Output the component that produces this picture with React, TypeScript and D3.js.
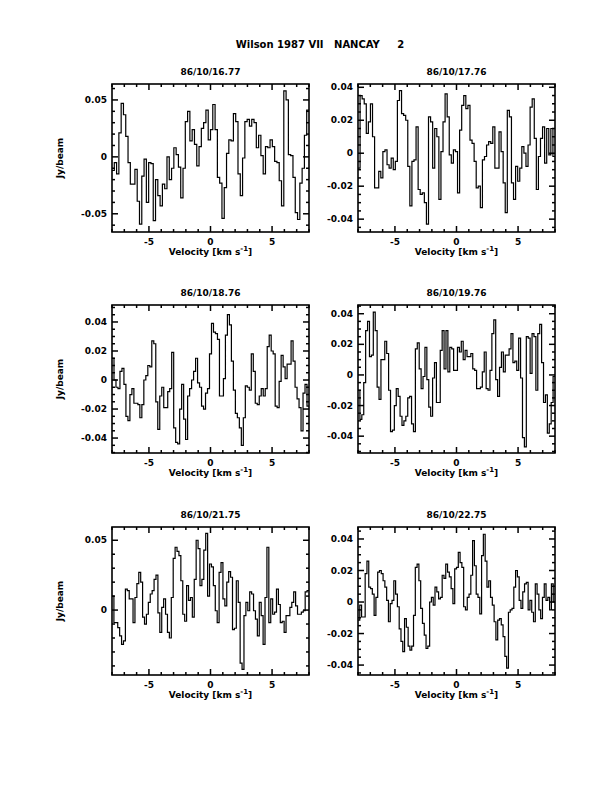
import React from 'react';
import * as d3 from 'd3';

// Page text
const pageTitle = 'Wilson 1987 VII   NANCAY     2';
const panelTitles = ['86/10/16.77', '86/10/17.76', '86/10/18.76', '86/10/19.76', '86/10/21.75', '86/10/22.75'];

// Axes
const velocityRange = [-8, 8];
const velocityTicks = [-5, 0, 5];
const yDomains = [
  [-0.066, 0.064],
  [-0.0478, 0.042],
  [-0.0503, 0.0517],
  [-0.051, 0.0457],
  [-0.0465, 0.0595],
  [-0.0463, 0.0476],
];
const yMajorTicks = [
  [-0.05, 0, 0.05],
  [-0.04, -0.02, 0, 0.02, 0.04],
  [-0.04, -0.02, 0, 0.02, 0.04],
  [-0.04, -0.02, 0, 0.02, 0.04],
  [0, 0.05],
  [-0.04, -0.02, 0, 0.02, 0.04],
];
const yMinorSteps = [0.01, 0.005, 0.005, 0.005, 0.01, 0.005];

// Spectra (Jy/beam), channels evenly spread over the velocity range
const spec1677 = [-0.012, -0.005, -0.015, 0.021, 0.047, 0.037, 0.018, -0.005, -0.024, -0.024, -0.011, -0.039, -0.059, -0.017, -0.002, -0.040, -0.005, -0.006, -0.056, -0.020, -0.034, -0.043, -0.024, -0.028, 0.000, -0.020, -0.010, 0.008, 0.002, -0.009, -0.036, -0.010, 0.031, 0.040, 0.014, 0.024, 0.011, -0.008, 0.009, 0.025, 0.030, 0.041, 0.015, 0.024, 0.046, 0.024, -0.018, -0.023, -0.054, -0.027, 0.003, 0.015, 0.014, 0.038, 0.031, -0.015, -0.034, -0.001, 0.031, 0.033, 0.027, 0.033, 0.030, 0.008, 0.019, 0.001, -0.015, 0.009, 0.008, 0.015, 0.009, -0.004, -0.005, -0.021, -0.043, 0.058, 0.050, 0.002, 0.001, -0.018, -0.049, -0.055, -0.023, -0.010, 0.019, 0.041];
const spec1776 = [-0.009, 0.035, 0.033, 0.030, 0.012, 0.019, 0.030, 0.010, -0.021, -0.021, -0.011, -0.015, 0.001, 0.002, -0.007, -0.009, -0.003, -0.010, -0.005, 0.032, 0.038, 0.024, 0.023, 0.020, -0.008, -0.032, -0.005, -0.004, 0.016, -0.022, -0.025, -0.024, -0.030, -0.043, 0.022, 0.019, -0.009, 0.015, 0.010, -0.028, 0.001, 0.019, 0.036, 0.022, -0.001, -0.006, 0.002, 0.001, -0.024, 0.014, 0.029, 0.035, 0.027, 0.029, 0.008, 0.006, -0.005, -0.021, -0.020, -0.033, -0.004, -0.002, 0.005, 0.007, 0.006, 0.016, -0.009, -0.009, 0.013, 0.001, -0.018, -0.036, 0.026, 0.022, -0.018, -0.028, -0.008, -0.017, -0.009, 0.004, 0.000, -0.008, 0.005, 0.028, 0.033, 0.009, -0.022, -0.002, 0.009, 0.016, -0.006, 0.015, -0.001, 0.015, -0.002];
const spec1876 = [0.015, 0.000, -0.005, -0.006, 0.006, 0.008, -0.003, -0.025, -0.028, -0.010, -0.006, -0.016, -0.016, -0.017, -0.026, -0.017, 0.000, 0.003, 0.010, 0.009, 0.027, 0.025, -0.015, -0.034, -0.011, -0.005, -0.019, -0.019, -0.008, -0.006, 0.019, -0.033, -0.043, -0.044, -0.020, -0.003, -0.027, -0.041, -0.011, -0.006, 0.000, 0.006, 0.015, -0.002, -0.005, -0.018, -0.020, -0.009, -0.006, 0.018, 0.039, 0.033, 0.032, 0.028, -0.011, -0.011, 0.001, 0.031, 0.045, 0.038, 0.013, -0.007, -0.023, -0.026, -0.033, -0.045, -0.026, -0.004, -0.005, -0.007, 0.018, 0.006, -0.016, -0.017, -0.011, -0.006, -0.011, -0.006, 0.023, 0.031, 0.020, 0.018, -0.018, -0.019, -0.001, 0.017, 0.009, 0.001, 0.011, 0.011, 0.027, 0.013, -0.005, -0.013, -0.019, -0.035, -0.009, -0.003, -0.018];
const spec1976 = [-0.010, -0.029, -0.026, -0.005, 0.029, 0.035, 0.012, 0.013, 0.041, 0.029, -0.008, -0.016, 0.010, 0.010, 0.022, 0.014, -0.010, -0.037, -0.036, -0.020, -0.009, -0.014, -0.027, -0.033, -0.030, -0.027, -0.015, -0.014, -0.032, -0.037, 0.017, 0.021, 0.004, -0.009, -0.001, 0.018, -0.003, -0.021, -0.027, -0.002, 0.008, -0.018, -0.018, 0.016, 0.029, 0.004, 0.029, 0.002, 0.018, 0.017, 0.003, 0.003, 0.018, 0.015, 0.022, 0.010, 0.016, 0.012, 0.012, 0.014, 0.004, 0.003, -0.009, -0.009, -0.008, 0.002, 0.015, -0.009, -0.010, 0.003, 0.027, 0.036, -0.003, -0.014, 0.005, 0.015, 0.002, 0.013, 0.013, 0.017, 0.027, 0.008, 0.009, 0.003, 0.024, -0.002, -0.041, -0.047, 0.025, 0.024, 0.001, 0.027, 0.025, -0.010, 0.027, 0.033, 0.008, -0.018, -0.013, -0.038, -0.032, -0.018, -0.001];
const spec2175 = [0.010, -0.009, -0.009, -0.0125, -0.0185, -0.0245, -0.022, 0.015, 0.014, 0.008, 0.008, -0.009, 0.009, 0.019, 0.027, 0.020, -0.005, -0.010, -0.003, 0.0055, 0.0115, 0.014, 0.022, 0.025, -0.002, -0.016, 0.002, 0.008, -0.003, -0.016, -0.020, 0.009, 0.037, 0.045, 0.042, 0.039, 0.021, -0.003, -0.008, 0.0175, 0.007, 0.009, -0.005, 0.022, 0.050, 0.044, 0.0175, 0.022, 0.043, 0.055, 0.010, 0.033, 0.031, 0.0175, -0.0005, -0.009, 0.027, 0.034, 0.008, 0.003, 0.020, 0.0275, 0.0235, -0.014, -0.013, 0.021, 0.0055, -0.038, -0.0425, -0.004, 0.0055, -0.0005, 0.013, 0.0115, -0.0005, -0.0065, -0.0185, 0.0055, -0.004, -0.0245, 0.009, 0.045, -0.009, 0.008, -0.003, -0.0015, 0.015, 0.004, -0.009, -0.008, -0.016, -0.004, -0.004, 0.002, 0.0055, 0.013, 0.003, -0.003, -0.003, -0.0015, -0.0005, 0.013, 0.014];
const spec2275 = [-0.0115, -0.002, -0.0095, -0.0095, 0.018, 0.026, 0.0095, 0.0085, 0.005, -0.0085, 0.003, 0.019, 0.020, 0.018, 0.0135, 0.0095, 0.001, -0.0125, -0.001, 0.001, 0.0135, 0.005, -0.003, -0.017, -0.025, -0.0315, -0.0105, -0.016, -0.028, -0.0305, -0.028, -0.0085, 0.022, 0.024, 0.0135, -0.004, -0.0135, -0.021, -0.0295, -0.028, 0.000, 0.003, -0.002, 0.0095, 0.0065, 0.002, 0.003, 0.017, 0.015, 0.024, 0.019, 0.016, 0.0085, -0.001, 0.021, 0.022, 0.0315, 0.025, 0.022, -0.003, -0.005, 0.003, 0.005, 0.017, 0.039, 0.023, 0.005, 0.003, -0.0075, 0.0295, 0.043, 0.026, 0.0095, 0.0135, 0.003, -0.002, -0.0125, -0.024, -0.0115, -0.0105, -0.0145, -0.022, -0.0345, -0.042, -0.0065, -0.005, -0.004, 0.0095, 0.020, 0.016, 0.001, -0.004, 0.0065, 0.0115, 0.0125, -0.005, 0.001, -0.0065, -0.0125, 0.0115, 0.005, -0.005, -0.0105, 0.003, 0.0115, 0.001, 0.003, -0.005, 0.0115, 0.000];
const spectra = [spec1677, spec1776, spec1876, spec1976, spec2175, spec2275];

// Layout
const W = 612;
const H = 792;
const colX = [112, 358];
const rowY = [84, 305, 527];
const panelW = 197;
const panelH = 148;
const font = 'DejaVu Sans, sans-serif';

type PanelProps = { idx: number };

const Panel: React.FC<PanelProps> = ({ idx }) => {
  const col = idx % 2;
  const row = Math.floor(idx / 2);
  const x0 = colX[col];
  const y0 = rowY[row];
  const values = spectra[idx];
  const [ymin, ymax] = yDomains[idx];

  const x = d3.scaleLinear().domain(velocityRange).range([0, panelW]);
  const y = d3.scaleLinear().domain([ymin, ymax]).range([panelH, 0]);

  const dv = (velocityRange[1] - velocityRange[0]) / values.length;
  const pts: [number, number][] = values.map((v, i) => [velocityRange[0] + i * dv, v]);
  pts.push([velocityRange[1], values[values.length - 1]]);
  const line = d3
    .line<[number, number]>()
    .x(d => x(d[0]))
    .y(d => y(d[1]))
    .curve(d3.curveStepAfter);

  const xMinor = d3.range(velocityRange[0], velocityRange[1] + 0.001, 1).filter(v => !velocityTicks.includes(v));
  const step = yMinorSteps[idx];
  const yMinor = d3
    .range(Math.ceil(ymin / step), Math.floor(ymax / step) + 1)
    .map(k => +(k * step).toFixed(4))
    .filter(v => !yMajorTicks[idx].some(t => Math.abs(t - v) < 1e-6));

  const majLen = 6;
  const minLen = 3;

  return (
    <g transform={`translate(${x0},${y0})`}>
      <text x={panelW / 2} y={-9} textAnchor="middle" fontFamily={font} fontSize={9} fontWeight="bold">
        {panelTitles[idx]}
      </text>
      <path d={line(pts) || ''} fill="none" stroke="#000" strokeWidth={1.2} />
      {/* x ticks, bottom and top */}
      {velocityTicks.map(v => (
        <g key={'xm' + v}>
          <line x1={x(v)} x2={x(v)} y1={panelH} y2={panelH - majLen} stroke="#000" strokeWidth={1.5} />
          <line x1={x(v)} x2={x(v)} y1={0} y2={majLen} stroke="#000" strokeWidth={1.5} />
          <text x={x(v)} y={panelH + 13} textAnchor="middle" fontFamily={font} fontSize={9} fontWeight="bold">
            {v === 0 ? '0' : v < 0 ? '-' + Math.abs(v) : String(v)}
          </text>
        </g>
      ))}
      {xMinor.map(v => (
        <g key={'xn' + v}>
          <line x1={x(v)} x2={x(v)} y1={panelH} y2={panelH - minLen} stroke="#000" strokeWidth={1.5} />
          <line x1={x(v)} x2={x(v)} y1={0} y2={minLen} stroke="#000" strokeWidth={1.5} />
        </g>
      ))}
      {/* y ticks, left and right */}
      {yMajorTicks[idx].map(v => (
        <g key={'ym' + v}>
          <line x1={0} x2={majLen} y1={y(v)} y2={y(v)} stroke="#000" strokeWidth={1.5} />
          <line x1={panelW} x2={panelW - majLen} y1={y(v)} y2={y(v)} stroke="#000" strokeWidth={1.5} />
          <text x={-5} y={y(v) + 3} textAnchor="end" fontFamily={font} fontSize={9} fontWeight="bold">
            {v === 0 ? '0' : String(v)}
          </text>
        </g>
      ))}
      {yMinor.map(v => (
        <g key={'yn' + v}>
          <line x1={0} x2={minLen} y1={y(v)} y2={y(v)} stroke="#000" strokeWidth={1.5} />
          <line x1={panelW} x2={panelW - minLen} y1={y(v)} y2={y(v)} stroke="#000" strokeWidth={1.5} />
        </g>
      ))}
      <rect x={0} y={0} width={panelW} height={panelH} fill="none" stroke="#000" strokeWidth={1.6} />
      <text x={panelW / 2} y={panelH + 23} textAnchor="middle" fontFamily={font} fontSize={9} fontWeight="bold">
        Velocity [km s
        <tspan dy={-4} fontSize={7}>-1</tspan>
        <tspan dy={4}>]</tspan>
      </text>
      {col === 0 && (
        <text
          transform={`translate(${-49},${panelH / 2}) rotate(-90)`}
          textAnchor="middle"
          fontFamily={font}
          fontSize={9}
          fontWeight="bold"
        >
          Jy/beam
        </text>
      )}
    </g>
  );
};

export default function App() {
  return (
    <svg
      width={W}
      height={H}
      viewBox={`0 0 ${W} ${H}`}
      style={{ position: 'absolute', left: 0, top: 0, background: '#fff' }}
    >
      <rect width={W} height={H} fill="#fff" />
      <text x={320} y={48} textAnchor="middle" fontFamily={font} fontSize={10} fontWeight="bold" style={{ whiteSpace: 'pre' }}>
        {pageTitle}
      </text>
      {panelTitles.map((_, i) => (
        <Panel key={i} idx={i} />
      ))}
    </svg>
  );
}
